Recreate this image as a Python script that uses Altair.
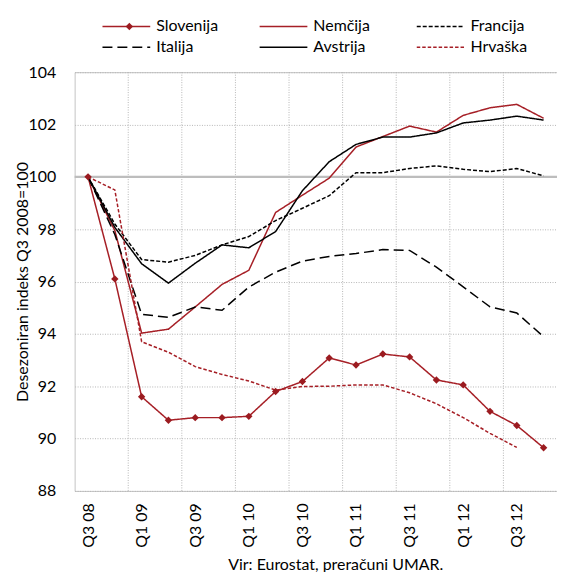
import json
import altair as alt
import pandas as pd

quarters = ["Q3 08", "Q4 08", "Q1 09", "Q2 09", "Q3 09", "Q4 09", "Q1 10", "Q2 10", "Q3 10",
            "Q4 10", "Q1 11", "Q2 11", "Q3 11", "Q4 11", "Q1 12", "Q2 12", "Q3 12", "Q4 12"]

series_names = ["Slovenija", "Nemčija", "Francija", "Italija", "Avstrija", "Hrvaška"]

slovenija = [100, 96.1, 91.6, 90.7, 90.8, 90.8, 90.85, 91.8, 92.18, 93.08, 92.81, 93.23,
             93.12, 92.24, 92.05, 91.04, 90.5, 89.65]
nemcija = [100, 97.95, 94.03, 94.18, 95.03, 95.89, 96.43, 98.64, 99.3, 99.95, 101.14, 101.54,
           101.94, 101.71, 102.35, 102.64, 102.77, 102.24]
francija = [100, 98.2, 96.84, 96.74, 97.0, 97.4, 97.72, 98.33, 98.8, 99.28, 100.16, 100.16,
            100.32, 100.42, 100.29, 100.2, 100.32, 100.04]
italija = [100, 97.8, 94.75, 94.63, 95.03, 94.9, 95.79, 96.36, 96.78, 96.96, 97.07, 97.22,
           97.19, 96.55, 95.8, 95.03, 94.8, 93.89]
avstrija = [100, 98.07, 96.68, 95.94, 96.7, 97.4, 97.29, 97.91, 99.47, 100.58, 101.24, 101.52,
            101.52, 101.68, 102.06, 102.17, 102.32, 102.17]
hrvaska = [100, 99.5, 93.7, 93.3, 92.75, 92.45, 92.2, 91.85, 91.99, 92.0, 92.05, 92.05,
           91.75, 91.33, 90.8, 90.2, 89.66]

y_ticks = [88, 90, 92, 94, 96, 98, 100, 102, 104]
label_idx = list(range(0, 18, 2))

RED = "#a61f26"
MARK_RED = "#9b1b20"
colors = [RED, RED, "#000000", "#000000", "#000000", RED]
dashes = [[1, 0], [1, 0], [4, 2], [10, 5], [1, 0], [3.5, 2]]

rows = []
for name, vals in zip(series_names, [slovenija, nemcija, francija, italija, avstrija, hrvaska]):
    for i, v in enumerate(vals):
        rows.append({"series": name, "idx": i, "quarter": quarters[i], "value": v})
df = pd.DataFrame(rows)

grid_df = pd.DataFrame({"b": [i - 0.5 for i in range(2, 18, 2)]})
ref_df = pd.DataFrame({"v": [100]})

FONT = "Lato"
label_expr = json.dumps(quarters) + "[round(datum.value)]"

x_scale = alt.Scale(domain=[-0.5, 17.5], nice=False, zero=False)
y_scale = alt.Scale(domain=[88, 104], nice=False, zero=False)

x_enc = alt.X("idx:Q", scale=x_scale,
              axis=alt.Axis(values=label_idx, labelExpr=label_expr, labelAngle=-90,
                            labelPadding=12, grid=False, ticks=False, domain=False,
                            labelFont=FONT, labelFontSize=16, labelColor="#000", title=None))
y_enc = alt.Y("value:Q", scale=y_scale,
              axis=alt.Axis(values=y_ticks, grid=True, gridColor="#b5b5b5", gridDash=[1, 1.5],
                            ticks=False, domain=False, labelPadding=19,
                            labelFont=FONT, labelFontSize=16, labelColor="#000",
                            title="Desezoniran indeks Q3 2008=100", titleFont=FONT,
                            titleFontSize=16, titleFontWeight="normal", titleColor="#000",
                            titlePadding=-2))

legend = alt.Legend(orient="none", legendX=27, legendY=-59, columns=3, direction="horizontal",
                    title=None, symbolType="M-1,0H3", symbolSize=576, symbolStrokeWidth=1.5,
                    labelFont=FONT, labelFontSize=16, labelColor="#000", labelOffset=29,
                    gridAlign="all", columnPadding=38, rowPadding=-2, padding=0)

vgrid = alt.Chart(grid_df).mark_rule(color="#b5b5b5", strokeDash=[1, 1.5], strokeWidth=1).encode(
    x=alt.X("b:Q", scale=x_scale)
)
ref = alt.Chart(ref_df).mark_rule(color="#bdbdbd", strokeWidth=2.5).encode(
    y=alt.Y("v:Q", scale=y_scale)
)

lines = alt.Chart(df).mark_line(strokeWidth=1.5).encode(
    x=x_enc, y=y_enc,
    color=alt.Color("series:N", scale=alt.Scale(domain=series_names, range=colors),
                    sort=series_names, legend=legend),
    strokeDash=alt.StrokeDash("series:N", scale=alt.Scale(domain=series_names, range=dashes),
                              sort=series_names, legend=legend),
    order="idx:Q",
)

marker_legend = alt.Legend(orient="none", legendX=47, legendY=-54, title=None,
                           labelExpr="''", labelFontSize=16, symbolFillColor=MARK_RED,
                           symbolStrokeColor=MARK_RED, symbolSize=55, symbolStrokeWidth=0,
                           padding=0)

points = alt.Chart(df[df["series"] == "Slovenija"]).mark_point(
    filled=True, size=55, color=MARK_RED, opacity=1
).encode(
    x=x_enc, y=y_enc,
    shape=alt.Shape("series:N", scale=alt.Scale(domain=["Slovenija"], range=["diamond"]),
                    legend=marker_legend),
)

chart = alt.layer(vgrid, ref, lines, points).properties(
    width=485, height=421,
    autosize=alt.AutoSizeParams(type="none"),
    padding={"left": 67, "top": 63, "right": 0, "bottom": 80},
    background="white",
    title=alt.TitleParams("Vir: Eurostat, preračuni UMAR.", orient="bottom", anchor="middle",
                          font=FONT, fontSize=16, fontWeight="normal", color="#000",
                          offset=10, dx=20),
).configure_view(stroke="#c4c4c4", strokeWidth=1)

chart.save("out.html", embed_options={"renderer": "svg", "actions": False})
